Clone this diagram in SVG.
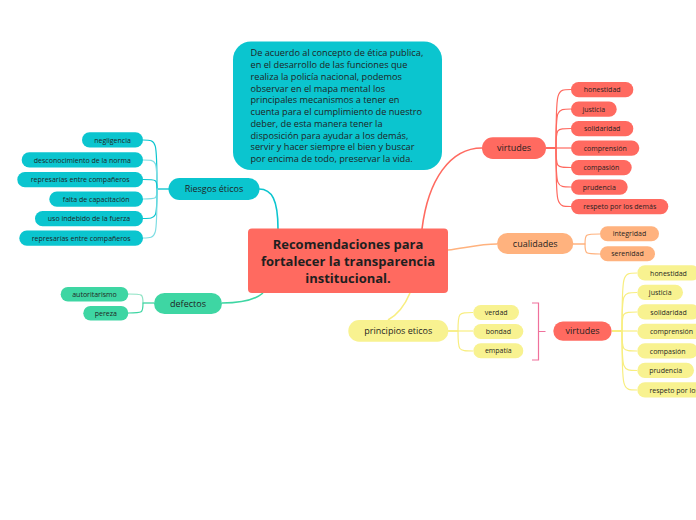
<svg xmlns="http://www.w3.org/2000/svg" width="696" height="520" viewBox="0 0 696 520">
<style>
text{font-family:"Open Sans","Noto Sans","DejaVu Sans",sans-serif;fill:#1f1f1f}
.c{font-size:7px;text-anchor:middle}
.m{font-size:9px;text-anchor:middle}
.d{font-size:9.2px}
.t{font-size:13px;font-weight:bold;text-anchor:middle}
.tq{fill:#0BC5CF}
.rd{fill:#FF6A60}
.pc{fill:#FFB27E}
.yl{fill:#F8F290}
.mt{fill:#3ED6A3}
path{fill:none}
.l{stroke-width:1.2}
.L{stroke-width:1.6}
</style>
<g id="connectors">
<path class="L" stroke="#0BC5CF" d="M259,189 C272,189 278,200 278,229"/>
<path class="L" stroke="#3ED6A3" d="M263,293 C255,300 240,303 222,303"/>
<path class="L" stroke="#FF6A60" d="M422,229 C428,180 450,148 482,148"/>
<path class="L" stroke="#FFB27E" d="M448,250 C465,248 480,244 497,244"/>
<path class="L" stroke="#F8EE80" d="M410,293 C405,305 397,315 388,320"/>
<path class="l" stroke="#0BC5CF" d="M169,189 H157 C157,140 157,140 143,140"/>
<path class="l" stroke="#7EDDE3" d="M169,189 H157 C157,160 157,160 143,160"/>
<path class="l" stroke="#0BC5CF" d="M169,189 H157 C157,179.5 157,179.5 143,179.5"/>
<path class="l" stroke="#7EDDE3" d="M169,189 H157 C157,199 157,199 143,199"/>
<path class="l" stroke="#0BC5CF" d="M169,189 H157 C157,218.5 157,218.5 143,218.5"/>
<path class="l" stroke="#7EDDE3" d="M169,189 H157 C157,238 157,238 143,238"/>
<path class="l" stroke="#8EE3C4" d="M154,303 H143 C143,294 143,294 128,294"/>
<path class="l" stroke="#3ED6A3" d="M154,303 H143 C143,313 143,313 128,313"/>
<path class="l" stroke="#FF6A60" d="M546,148 H556 C556,89.5 556,89.5 571,89.5"/>
<path class="l" stroke="#FF6A60" d="M546,148 H556 C556,109 556,109 571,109"/>
<path class="l" stroke="#FF6A60" d="M546,148 H556 C556,128.5 556,128.5 571,128.5"/>
<path class="l" stroke="#FF6A60" d="M546,148 H571"/>
<path class="l" stroke="#FF6A60" d="M546,148 H556 C556,167.5 556,167.5 571,167.5"/>
<path class="l" stroke="#FF6A60" d="M546,148 H556 C556,187 556,187 571,187"/>
<path class="l" stroke="#FF6A60" d="M546,148 H556 C556,206.5 556,206.5 571,206.5"/>
<path class="l" stroke="#FFB27E" d="M573,244 H585 C585,234 585,234 600,234"/>
<path class="l" stroke="#FFB27E" d="M573,244 H585 C585,254 585,254 600,254"/>
<path class="l" stroke="#F8EE80" d="M448,331 H458 C458,312.5 458,312.5 473,312.5"/>
<path class="l" stroke="#F8EE80" d="M448,331 H473"/>
<path class="l" stroke="#F8EE80" d="M448,331 H458 C458,351 458,351 473,351"/>
<path class="l" stroke="#F0719C" d="M532,303 H538.5 V360 H532 M538.5,331.5 H545.5"/>
<path class="l" stroke="#F8EE80" d="M612,331 H622 C622,273 622,273 637,273"/>
<path class="l" stroke="#F8EE80" d="M612,331 H622 C622,292.5 622,292.5 637,292.5"/>
<path class="l" stroke="#F8EE80" d="M612,331 H622 C622,312 622,312 637,312"/>
<path class="l" stroke="#F8EE80" d="M612,331 H637"/>
<path class="l" stroke="#F8EE80" d="M612,331 H622 C622,351 622,351 637,351"/>
<path class="l" stroke="#F8EE80" d="M612,331 H622 C622,370.5 622,370.5 637,370.5"/>
<path class="l" stroke="#F8EE80" d="M612,331 H622 C622,390 622,390 637,390"/>
</g>
<g id="descripcion">
<rect class="tq" x="233" y="41.5" width="209" height="128.5" rx="18"/>
<text class="d" x="250.5" y="56.3">De acuerdo al concepto de ética publica,</text>
<text class="d" x="250.5" y="68">en el desarrollo de las funciones  que</text>
<text class="d" x="250.5" y="79.8">realiza la policía nacional, podemos</text>
<text class="d" x="250.5" y="91.5">observar en el mapa mental los</text>
<text class="d" x="250.5" y="103.3">principales mecanismos a tener en</text>
<text class="d" x="250.5" y="115">cuenta para el cumplimiento de nuestro</text>
<text class="d" x="250.5" y="126.8">deber, de esta manera tener la</text>
<text class="d" x="250.5" y="138.5">disposición para ayudar a los demás,</text>
<text class="d" x="250.5" y="150.3">servir y hacer siempre el bien y buscar</text>
<text class="d" x="250.5" y="162">por encima de todo, preservar la vida.</text>
</g>
<g id="central">
<rect class="rd" x="248" y="228.5" width="200" height="64.5" rx="4"/>
<text class="t" x="348" y="249">Recomendaciones para</text>
<text class="t" x="348" y="266">fortalecer la transparencia</text>
<text class="t" x="348" y="283.4">institucional.</text>
</g>
<g id="riesgos">
<rect class="tq" x="168.5" y="178" width="91" height="22" rx="11"/>
<text class="m" x="214" y="192.2">Riesgos éticos</text>
</g>
<g id="riesgos-hijos">
<rect class="tq" x="82" y="132.3" width="61" height="15.3" rx="7.6"/>
<text class="c" x="112.5" y="142.5">negligencia</text>
<rect class="tq" x="21.7" y="152.3" width="121.3" height="15.3" rx="7.6"/>
<text class="c" x="82.3" y="162.5">desconocimiento de la norma</text>
<rect class="tq" x="17.3" y="172" width="125.7" height="15.3" rx="7.6"/>
<text class="c" x="80.2" y="182.2">represarías entre compañeros</text>
<rect class="tq" x="49.3" y="191.5" width="93.7" height="15.3" rx="7.6"/>
<text class="c" x="96.2" y="201.7">falta de capacitación</text>
<rect class="tq" x="35" y="211" width="108" height="15.3" rx="7.6"/>
<text class="c" x="89" y="221.2">uso indebido de la fuerza</text>
<rect class="tq" x="19.3" y="230.5" width="123.7" height="15.3" rx="7.6"/>
<text class="c" x="81.2" y="240.7">represarías entre compañeros</text>
</g>
<g id="defectos">
<rect class="mt" x="154" y="293" width="68" height="21" rx="10.5"/>
<text class="m" x="188" y="306.6">defectos</text>
</g>
<g id="defectos-hijos">
<rect class="mt" x="60.7" y="287" width="67.6" height="14.5" rx="7.2"/>
<text class="c" x="94.5" y="296.7">autoritarismo</text>
<rect class="mt" x="83.3" y="306" width="45" height="14.5" rx="7.2"/>
<text class="c" x="105.8" y="315.7">pereza</text>
</g>
<g id="virtudes">
<rect class="rd" x="482" y="137.3" width="64" height="21.7" rx="10.8"/>
<text class="m" x="514" y="151.3">virtudes</text>
</g>
<g id="virtudes-hijos">
<rect class="rd" x="571" y="82" width="62.3" height="15.3" rx="7.6"/>
<text class="c" x="602.2" y="92.2">honestidad</text>
<rect class="rd" x="571" y="101.5" width="45.7" height="15.3" rx="7.6"/>
<text class="c" x="593.8" y="111.7">justicia</text>
<rect class="rd" x="571" y="121" width="62.3" height="15.3" rx="7.6"/>
<text class="c" x="602.2" y="131.2">solidaridad</text>
<rect class="rd" x="571" y="140.4" width="68.3" height="15.3" rx="7.6"/>
<text class="c" x="605.2" y="150.6">comprensión</text>
<rect class="rd" x="571" y="159.9" width="60.7" height="15.3" rx="7.6"/>
<text class="c" x="601.3" y="170.1">compasión</text>
<rect class="rd" x="571" y="179.4" width="56.7" height="15.3" rx="7.6"/>
<text class="c" x="599.3" y="189.6">prudencia</text>
<rect class="rd" x="571" y="198.9" width="97.3" height="15.3" rx="7.6"/>
<text class="c" x="619.7" y="209.1">respeto por los demás</text>
</g>
<g id="cualidades">
<rect class="pc" x="497" y="233" width="76.3" height="21" rx="10.5"/>
<text class="m" x="535.2" y="246.6">cualidades</text>
</g>
<g id="cualidades-hijos">
<rect class="pc" x="600" y="226.3" width="59" height="15" rx="7.5"/>
<text class="c" x="629.5" y="236.3">integridad</text>
<rect class="pc" x="600" y="246.3" width="55" height="15" rx="7.5"/>
<text class="c" x="627.5" y="256.3">serenidad</text>
</g>
<g id="principios">
<rect class="yl" x="348.3" y="320" width="100" height="21.7" rx="10.8"/>
<text class="m" x="398.3" y="334">principios eticos</text>
</g>
<g id="principios-hijos">
<rect class="yl" x="473.3" y="305" width="45.7" height="15" rx="7.5"/>
<text class="c" x="496.2" y="315">verdad</text>
<rect class="yl" x="473.3" y="324" width="50" height="15" rx="7.5"/>
<text class="c" x="498.3" y="334">bondad</text>
<rect class="yl" x="473.3" y="343.3" width="50" height="15" rx="7.5"/>
<text class="c" x="498.3" y="353.3">empatía</text>
</g>
<g id="virtudes2">
<rect class="rd" x="553.3" y="321.5" width="58.4" height="19.2" rx="9.6"/>
<text class="m" x="582.5" y="334.2">virtudes</text>
</g>
<g id="virtudes2-hijos">
<rect class="yl" x="637.3" y="265.3" width="62.3" height="15.3" rx="7.6"/>
<text class="c" x="668.5" y="275.5">honestidad</text>
<rect class="yl" x="637.3" y="284.8" width="45.7" height="15.3" rx="7.6"/>
<text class="c" x="660.2" y="295">justicia</text>
<rect class="yl" x="637.3" y="304.3" width="62.3" height="15.3" rx="7.6"/>
<text class="c" x="668.5" y="314.5">solidaridad</text>
<rect class="yl" x="637.3" y="323.8" width="68.3" height="15.3" rx="7.6"/>
<text class="c" x="671.5" y="334">comprensión</text>
<rect class="yl" x="637.3" y="343.3" width="60.7" height="15.3" rx="7.6"/>
<text class="c" x="667.7" y="353.5">compasión</text>
<rect class="yl" x="637.3" y="362.8" width="56.7" height="15.3" rx="7.6"/>
<text class="c" x="665.7" y="373">prudencia</text>
<rect class="yl" x="637.3" y="382.3" width="97.3" height="15.3" rx="7.6"/>
<text class="c" x="686" y="392.5">respeto por los demás</text>
</g>
</svg>
